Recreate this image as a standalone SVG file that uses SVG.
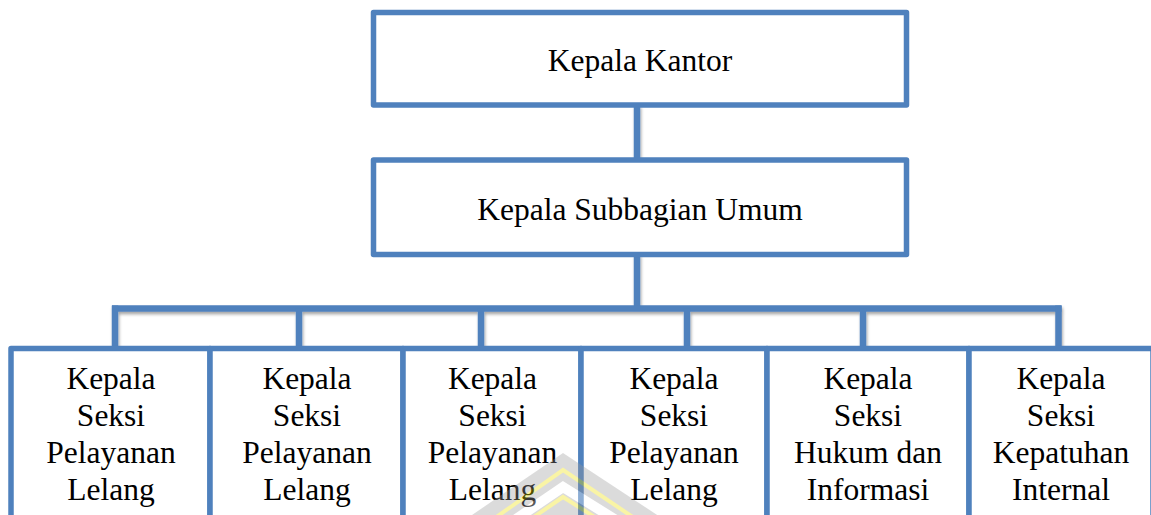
<svg xmlns="http://www.w3.org/2000/svg" width="1151" height="515" viewBox="0 0 1151 515">
  <defs>
    <filter id="sh" x="-10%" y="-10%" width="120%" height="130%">
      <feDropShadow dx="1" dy="2.5" stdDeviation="1.8" flood-color="#000" flood-opacity="0.35"/>
    </filter>
    <style>
      .box { fill: #ffffff; stroke: #4F81BD; stroke-width: 5.5; stroke-linejoin: round; }
      .conn { fill: none; stroke: #4F81BD; stroke-width: 6.5; stroke-linecap: butt; }
      .t { font-family: "Liberation Serif", "Times New Roman", serif; font-size: 31.5px; fill: #000; text-anchor: middle; }
    </style>
  </defs>
  <rect width="1151" height="515" fill="#ffffff"/>

  <g id="connectors" filter="url(#sh)">
    <line class="conn" x1="637" y1="105" x2="637" y2="160"/>
    <line class="conn" x1="637" y1="254" x2="637" y2="308.5"/>
    <line class="conn" x1="112" y1="308.5" x2="1061.5" y2="308.5"/>
    <line class="conn" x1="115" y1="305.5" x2="115" y2="348"/>
    <line class="conn" x1="299" y1="308.5" x2="299" y2="348"/>
    <line class="conn" x1="481" y1="308.5" x2="481" y2="348"/>
    <line class="conn" x1="687" y1="308.5" x2="687" y2="348"/>
    <line class="conn" x1="863" y1="308.5" x2="863" y2="348"/>
    <line class="conn" x1="1058.5" y1="305.5" x2="1058.5" y2="348"/>
  </g>

  <g id="kepala-kantor">
    <rect class="box" x="373.5" y="12.5" width="533" height="92.5"/>
    <text class="t" x="640" y="71">Kepala Kantor</text>
  </g>

  <g id="kepala-subbagian-umum">
    <rect class="box" x="373.5" y="160" width="533" height="94.5"/>
    <text class="t" x="640" y="219.5">Kepala Subbagian Umum</text>
  </g>

  <g id="seksi-1">
    <rect class="box" x="11" y="348.5" width="199" height="180"/>
    <text class="t" x="111"><tspan x="111" y="389">Kepala</tspan><tspan x="111" y="426">Seksi</tspan><tspan x="111" y="463">Pelayanan</tspan><tspan x="111" y="500">Lelang</tspan></text>
  </g>

  <g id="seksi-2">
    <rect class="box" x="210" y="348.5" width="193" height="180"/>
    <text class="t" x="307"><tspan x="307" y="389">Kepala</tspan><tspan x="307" y="426">Seksi</tspan><tspan x="307" y="463">Pelayanan</tspan><tspan x="307" y="500">Lelang</tspan></text>
  </g>

  <g id="seksi-3">
    <rect class="box" x="403" y="348.5" width="178" height="180"/>
    <text class="t" x="492.5"><tspan x="492.5" y="389">Kepala</tspan><tspan x="492.5" y="426">Seksi</tspan><tspan x="492.5" y="463">Pelayanan</tspan><tspan x="492.5" y="500">Lelang</tspan></text>
  </g>

  <g id="seksi-4">
    <rect class="box" x="581" y="348.5" width="186" height="180"/>
    <text class="t" x="674"><tspan x="674" y="389">Kepala</tspan><tspan x="674" y="426">Seksi</tspan><tspan x="674" y="463">Pelayanan</tspan><tspan x="674" y="500">Lelang</tspan></text>
  </g>

  <g id="seksi-5">
    <rect class="box" x="767" y="348.5" width="202" height="180"/>
    <text class="t" x="868"><tspan x="868" y="389">Kepala</tspan><tspan x="868" y="426">Seksi</tspan><tspan x="868" y="463">Hukum dan</tspan><tspan x="868" y="500">Informasi</tspan></text>
  </g>

  <g id="seksi-6">
    <rect class="box" x="969" y="348.5" width="184" height="180"/>
    <text class="t" x="1061"><tspan x="1061" y="389">Kepala</tspan><tspan x="1061" y="426">Seksi</tspan><tspan x="1061" y="463">Kepatuhan</tspan><tspan x="1061" y="500">Internal</tspan></text>
  </g>

  <g id="watermark" opacity="0.35">
    <polygon points="563,453 680,530 450,530" fill="#9a9a9a"/>
    <polyline points="478,530 563,470 652,530" fill="none" stroke="#f0e000" stroke-width="4"/>
    <polyline points="500,530 563,487 632,530" fill="none" stroke="#ffffff" stroke-width="10"/>
    <polyline points="515,530 563,497 615,530" fill="none" stroke="#f0e000" stroke-width="4"/>
  </g>
</svg>
